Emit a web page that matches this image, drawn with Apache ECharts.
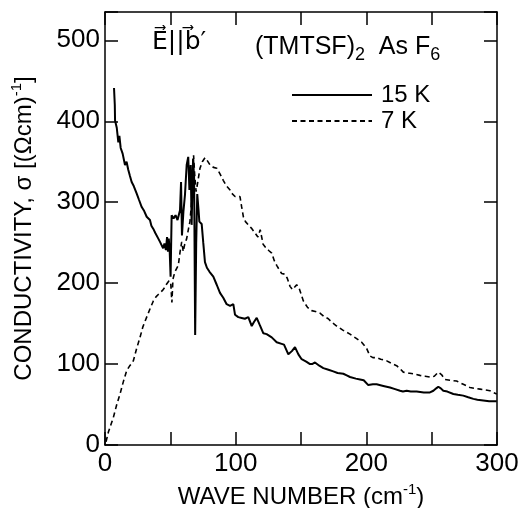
<!DOCTYPE html>
<html>
<head>
<meta charset="utf-8">
<style>
    html, body { margin: 0; padding: 0; background: #fff; }
    #chart { width: 529px; height: 508px; }
</style>
<script src="https://cdn.jsdelivr.net/npm/echarts@6.0.0/dist/echarts.min.js"></script>
</head>
<body>
<div id="chart"></div>
<script>
// 15 K (solid)
const wave15 = [6.9, 7.5, 7.7, 9, 10.2, 11, 12, 13.5, 15.3, 16.5, 17.8, 19, 20.4, 22, 24.2, 26, 28.1, 30, 31.9, 34.4,
    35.5, 37, 38.5, 40.8, 42.1, 43.4, 44.5, 45.5, 46.6, 47.5, 48.2, 48.8, 49.5, 50.2, 51, 52.5, 54, 55.5, 57.4, 58.2,
    58.9, 60, 61.2, 62.5, 63.7, 64.6, 65.6, 66.3, 67.4, 68.2, 69, 69.8, 70.6, 71.6, 72.2, 74, 75.2, 76.5, 78, 80,
    82.9, 85.5, 88, 90.5, 93.1, 95.7, 98.2, 99.5, 102, 104.6, 107, 109.7, 112.3, 114, 116.1, 118.5, 121.2, 123.7, 127.6, 131.4,
    135.2, 137, 140.3, 143, 145.4, 148, 150.5, 154, 156.9, 158.5, 160.7, 164, 167.1, 171, 174.7, 178, 182.4, 185, 187.5, 192,
    195.2, 198, 199.5, 201.5, 205, 207.9, 213, 218.1, 222, 225.8, 228, 230.9, 234, 238.5, 244, 248.7, 251.3, 253.5, 255.1, 257,
    258.9, 262, 266.6, 270, 274.2, 278, 281.9, 285, 289.5, 294, 299.8];
const sigma15 = [441, 420, 401, 392, 374, 382, 367, 360, 346, 350, 340, 333, 325, 320, 311, 303, 294, 289, 282, 278,
    271, 267, 262, 255, 251, 249, 243, 249, 241, 257, 239, 255, 240, 208, 284, 280, 284, 278, 290, 325,
    259, 288, 309, 346, 356, 315, 346, 272, 354, 330, 136, 250, 310, 290, 276, 273, 250, 226, 219, 214,
    208, 198, 188, 182, 174, 172, 174, 161, 158, 157, 156, 158, 147, 152, 157, 148, 138, 137, 133, 127,
    125, 124, 112, 116, 121, 112, 106, 103, 100, 100, 102, 98, 95, 93, 91, 89, 88, 86, 84, 82,
    81, 80, 78, 74, 75, 75, 73, 71, 69, 67, 66, 67, 66, 66, 65, 65, 67, 70, 72, 70,
    67, 66, 63, 62, 61, 59, 57, 56, 55, 54, 54];

// 7 K (dashed)
const wave7 = [0.8, 2.6, 4.5, 6.4, 9, 11.5, 14, 16.6, 19, 21.7, 24, 26.8, 29, 31.9, 34.4, 37, 39, 40.8, 42.1, 44,
    45.9, 47.2, 49, 50.3, 51.2, 52, 53.5, 56.1, 57.4, 58.7, 59.9, 61, 62.5, 64, 65, 66.3, 67, 67.8, 68.6, 69.7,
    70.5, 72.7, 74.5, 76.5, 78, 80.4, 83, 85.5, 88, 90.5, 93, 95.7, 97, 99.5, 101, 103.3, 104.5, 105.9, 107.5, 109.7,
    112, 114.8, 117, 118.8, 121, 123.5, 125.5, 127.6, 129.5, 131.4, 133.9, 135.2, 137.7, 139.5, 141.6, 143.5, 144.8, 146.7, 148.5, 151.8,
    155, 158.2, 161, 164.5, 167.5, 170.9, 174, 177.3, 182, 187.5, 192, 196.4, 198.5, 200.3, 202.8, 205, 207.9, 211, 215.6, 219,
    223.2, 226, 228.3, 232, 235.9, 241, 245, 248.7, 252, 255.1, 257.5, 260.2, 264, 269.1, 274.2, 279.3, 283, 287, 291, 294.6,
    297, 299.8];
const sigma7 = [4, 16, 25, 34, 50, 63, 78, 92, 98, 104, 118, 133, 146, 158, 168, 178, 183, 186, 187, 191,
    195, 199, 203, 200, 176, 205, 214, 222, 238, 251, 239, 248, 255, 268, 276, 300, 320, 358, 335, 313,
    320, 342, 350, 355, 352, 346, 343, 342, 335, 327, 320, 315, 311, 307, 309, 307, 295, 282, 276, 272,
    268, 262, 257, 266, 248, 243, 240, 237, 228, 222, 215, 212, 211, 206, 196, 192, 191, 198, 194, 178,
    170, 166, 165, 163, 159, 156, 151, 147, 142, 137, 132, 127, 123, 119, 110, 108, 108, 106, 104, 101,
    98, 94, 90, 89, 88, 86, 85, 84, 85, 90, 87, 81, 80, 79, 75, 71, 70, 69, 68, 67,
    65, 63];

const xTicks = [0, 100, 200, 300];
const yTicks = [0, 100, 200, 300, 400, 500];

const FONT = 'Liberation Sans';

function pairs(xs, ys) {
    return xs.map(function (x, i) { return [x, ys[i]]; });
}

const axisLineStyle = { color: '#000', width: 1.5 };

function frameAxis(position, max, interval) {
    // plain axis for the top / right edges of the frame
    return {
        type: 'value',
        position: position,
        min: 0,
        max: max,
        interval: interval,
        axisLine: { show: true, onZero: false, lineStyle: axisLineStyle },
        axisTick: { show: true, inside: true, length: 13, lineStyle: axisLineStyle },
        splitLine: { show: false },
        axisLabel: { show: false }
    };
}

const chart = echarts.init(document.getElementById('chart'), null, { renderer: 'canvas' });

const option = {
    animation: false,
    backgroundColor: '#fff',
    textStyle: { fontFamily: FONT, color: '#000' },
    grid: {
        left: 105,
        right: 32,
        top: 12,
        bottom: 63,
        outerBoundsMode: 'none'
    },
    legend: {
        orient: 'vertical',
        left: 286,
        top: 78,
        itemWidth: 80,
        itemHeight: 14,
        itemGap: 2,
        itemStyle: { opacity: 0 },
        textStyle: { fontFamily: FONT, fontSize: 24, lineHeight: 24, color: '#000', padding: [0, 0, 0, 4] },
        data: [
            { name: '15 K' },
            { name: '7 K' }
        ]
    },
    xAxis: [
        {
            type: 'value',
            position: 'bottom',
            min: 0,
            max: 300,
            interval: 50,
            axisLine: { onZero: false, lineStyle: axisLineStyle },
            axisTick: { inside: true, length: 13, lineStyle: axisLineStyle },
            splitLine: { show: false },
            axisLabel: {
                fontFamily: FONT,
                fontSize: 26,
                color: '#000',
                margin: 6,
                formatter: function (v) {
                    return xTicks.indexOf(v) >= 0 ? String(v) : '';
                }
            },
            name: 'WAVE NUMBER (cm{sup|-1})',
            nameLocation: 'middle',
            nameGap: 34,
            nameTextStyle: {
                fontFamily: FONT,
                fontSize: 24,
                color: '#000',
                lineHeight: 30,
                rich: {
                    sup: { fontFamily: FONT, fontSize: 15, lineHeight: 15, verticalAlign: 'top', color: '#000' }
                }
            }
        },
        frameAxis('top', 300, 50)
    ],
    yAxis: [
        {
            type: 'value',
            position: 'left',
            min: 0,
            max: 535,
            interval: 100,
            axisLine: { show: true, onZero: false, lineStyle: axisLineStyle },
            axisTick: { show: true, inside: true, length: 13, lineStyle: axisLineStyle },
            splitLine: { show: false },
            axisLabel: {
                fontFamily: FONT,
                fontSize: 26,
                color: '#000',
                margin: 5,
                formatter: function (v) {
                    return yTicks.indexOf(v) >= 0 ? String(v) : '';
                }
            },
            name: 'CONDUCTIVITY, σ [(Ωcm){sup|-1}]',
            nameLocation: 'middle',
            nameGap: 66,
            nameRotate: 90,
            nameTextStyle: {
                fontFamily: FONT,
                fontSize: 24,
                color: '#000',
                lineHeight: 30,
                rich: {
                    sup: { fontFamily: FONT, fontSize: 15, lineHeight: 15, verticalAlign: 'top', color: '#000' }
                }
            }
        },
        frameAxis('right', 535, 100)
    ],
    graphic: [
        {
            type: 'text',
            left: 152,
            top: 30,
            style: {
                text: 'E\u20D7||b\u20D7\u2032',
                fontFamily: 'DejaVu Sans',
                fontSize: 25,
                fill: '#000'
            }
        },
        {
            type: 'text',
            left: 255,
            top: 30,
            style: {
                text: '(TMTSF){sub|2}  As F{sub|6}',
                fontFamily: FONT,
                fontSize: 25,
                lineHeight: 34,
                fill: '#000',
                rich: {
                    sub: { fontFamily: FONT, fontSize: 18, lineHeight: 18, verticalAlign: 'bottom', fill: '#000' }
                }
            }
        }
    ],
    series: [
        {
            name: '15 K',
            type: 'line',
            xAxisIndex: 0,
            yAxisIndex: 0,
            symbol: 'none',
            showSymbol: false,
            color: '#000',
            lineStyle: { color: '#000', width: 2, type: 'solid' },
            data: pairs(wave15, sigma15)
        },
        {
            name: '7 K',
            type: 'line',
            xAxisIndex: 0,
            yAxisIndex: 0,
            symbol: 'none',
            showSymbol: false,
            color: '#000',
            lineStyle: { color: '#000', width: 1.6, type: [5, 3.5] },
            data: pairs(wave7, sigma7)
        }
    ]
};

chart.setOption(option);
</script>
</body>
</html>
